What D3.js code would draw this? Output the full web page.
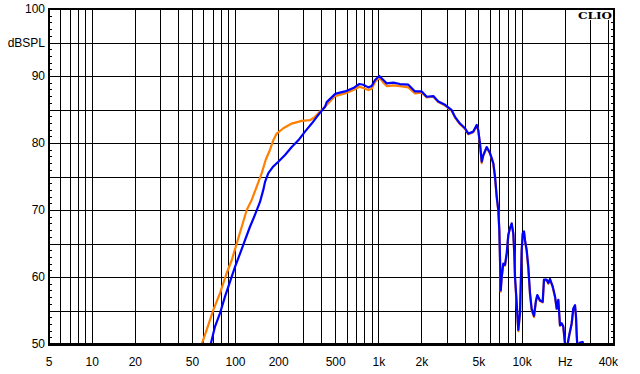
<!DOCTYPE html>
<html>
<head>
<meta charset="utf-8">
<script src="https://cdn.jsdelivr.net/npm/d3@7"></script>
<style>
  html, body { margin: 0; padding: 0; background: #fff; }
  svg { display: block; }
  text { font-family: "Liberation Sans", Arial, sans-serif; font-size: 12px; fill: #000; }
</style>
</head>
<body>
<script>
// ---- data ----
const freqTicks = [5, 10, 20, 50, 100, 200, 500, 1000, 2000, 5000, 10000, 20000, 40000];
const freqTickLabels = ["5", "10", "20", "50", "100", "200", "500", "1k", "2k", "5k", "10k", "Hz", "40k"];
const dbTicks = [100, 95, 90, 80, 70, 60, 50];
const dbTickLabels = ["100", "dBSPL", "90", "80", "70", "60", "50"];

const blueFreq = [65, 67.7, 72.5, 78.6, 85.2, 92.3, 100, 108.4, 117.4, 127.2, 137.9, 149.4, 157.5, 162, 170.8, 185, 200.5, 223.3, 248.7, 276.5, 307.9, 342.9, 381.4, 424.7, 436.4, 498.6, 512.5, 585.6, 669.1, 737.2, 785.8, 851.7, 899.4, 948.4, 1016, 1084, 1144, 1273, 1417, 1620, 1804, 2009, 2177, 2420, 2623, 2921, 3253, 3429, 3716, 4027, 4248, 4603, 4861, 4987, 5125, 5267, 5405, 5708, 6020, 6346, 6523, 6703, 6879, 6991, 7071, 7150, 7263, 7452, 7659, 7871, 8077, 8299, 8530, 8752, 8895, 8994, 9243, 9484, 9746, 10016, 10178, 10392, 10561, 10854, 11138, 11445, 11762, 12206, 12603, 12870, 13437, 14035, 14330, 14967, 15356, 15785, 16481, 17105, 17580, 18036, 18535, 19048, 19545, 20084, 20744, 21527, 22370, 22954, 23592, 23969, 24240, 24476, 25545, 26680, 27000];
const blueDb = [49.3, 50.0, 52.6, 54.6, 57.1, 59.3, 61.5, 63.5, 65.5, 67.5, 69.3, 71.2, 73.0, 74.2, 75.5, 76.5, 77.2, 78.2, 79.4, 80.4, 81.7, 82.9, 84.2, 85.4, 86.1, 87.3, 87.4, 87.7, 88.2, 88.8, 88.7, 88.3, 88.5, 89.4, 90.0, 89.4, 88.9, 89.0, 88.8, 88.7, 87.7, 87.7, 86.9, 87.0, 86.2, 85.7, 84.9, 83.9, 82.9, 82.2, 81.4, 81.7, 82.7, 81.9, 79.9, 77.2, 78.2, 79.4, 78.5, 77.0, 75.0, 72.0, 70.0, 67.0, 62.5, 58.0, 60.0, 62.0, 61.8, 63.5, 66.3, 67.3, 68.0, 66.5, 63.5, 60.0, 56.1, 52.1, 54.6, 64.0, 66.5, 66.8, 65.5, 64.0, 61.5, 57.6, 55.2, 54.2, 56.5, 57.3, 56.5, 56.3, 59.6, 59.6, 59.1, 59.7, 58.6, 57.1, 55.3, 56.6, 52.8, 53.1, 52.6, 50.1, 49.5, 51.4, 53.1, 55.3, 55.8, 54.1, 51.4, 49.8, 50.2, 50.3, 49.6];

const orangeFreq = [57, 58.6, 63.4, 66.9, 70.6, 78.6, 87.5, 94.8, 102.8, 111.4, 120.7, 130.7, 141.7, 153.6, 163.8, 175.5, 185, 195.4, 217.3, 248.7, 292.1, 333.7, 361.7, 391.9, 424.7, 498.6, 585.6, 669.1, 737.2, 785.8, 851.7, 899.4, 948.4, 1016, 1084, 1144, 1273, 1417, 1620, 1804, 2009, 2177, 2420, 2623, 2921, 3253, 3429, 3716, 4027, 4248, 4603, 4861, 4987, 5125, 5267, 5405, 5708, 6020, 6346, 6523, 6703, 6879, 6991, 7071, 7150, 7263, 7452, 7659, 7871, 8077, 8299, 8530, 8752, 8895, 8994, 9243, 9484, 9746, 10016, 10178, 10392, 10561, 10854, 11138, 11445, 11762, 12206, 12603, 12870, 13437, 14035, 14330, 14967, 15356, 15785, 16481, 17105, 17580, 18036, 18535, 19048, 19545, 20084, 20744, 21527, 22370, 22954, 23592, 23969, 24240, 24476, 25545, 26680, 27000];
const orangeDb = [49.4, 50.0, 52.1, 53.6, 55.1, 57.6, 60.6, 62.5, 65.0, 67.5, 70.0, 71.5, 73.5, 75.5, 77.5, 79.0, 80.4, 81.4, 82.2, 82.9, 83.3, 83.4, 83.9, 84.7, 85.4, 87.0, 87.4, 87.9, 88.4, 88.2, 87.9, 88.1, 89.1, 89.8, 89.0, 88.5, 88.6, 88.5, 88.3, 87.4, 87.5, 86.8, 86.9, 86.1, 85.6, 84.8, 83.8, 82.8, 82.1, 81.3, 81.6, 82.6, 81.8, 79.8, 77.0, 78.1, 79.3, 78.4, 76.9, 74.9, 71.9, 69.9, 66.9, 62.4, 57.8, 59.9, 61.9, 61.7, 63.4, 66.2, 67.2, 67.9, 66.4, 63.4, 59.8, 55.9, 51.9, 54.5, 63.9, 66.4, 66.7, 65.4, 63.8, 61.3, 57.4, 55.0, 54.0, 56.4, 57.2, 56.4, 56.2, 59.5, 59.5, 59.0, 59.6, 58.5, 57.0, 55.2, 56.5, 52.7, 53.0, 52.5, 50.0, 49.4, 51.3, 53.0, 55.2, 55.7, 54.0, 51.3, 49.7, 50.1, 50.2, 49.5];

// ---- layout ----
const W = 640, H = 374;
const L = 49, R = 614, T = 9, B = 344;

const x = d3.scaleLog().domain([5, 44500]).range([48.6, 614.5]);
const y = d3.scaleLinear().domain([50, 100]).range([B, T]);

const svg = d3.select("body").append("svg").attr("width", W).attr("height", H);
svg.append("rect").attr("width", W).attr("height", H).attr("fill", "#fff");

// vertical grid
const gx = svg.append("g").attr("transform", `translate(0,${B})`)
  .call(d3.axisBottom(x).tickValues(x.ticks().filter(f => f > 5)).tickSize(-(B - T)).tickFormat(""));
gx.select(".domain").remove();
gx.selectAll("line").attr("stroke", "#000").attr("stroke-width", 1).attr("shape-rendering", "crispEdges");

// horizontal grid
const gy = svg.append("g").attr("transform", `translate(${L},0)`)
  .call(d3.axisLeft(y).tickValues(d3.range(55, 100, 5)).tickSize(-(R - L)).tickFormat(""));
gy.select(".domain").remove();
gy.selectAll("line").attr("stroke", "#000").attr("stroke-width", 1).attr("shape-rendering", "crispEdges");

// minor ticks left and right (inside)
const mL = svg.append("g").attr("transform", `translate(${L},0)`)
  .call(d3.axisRight(y).tickValues(d3.range(50, 101, 1)).tickSize(3).tickFormat(""));
mL.select(".domain").remove();
mL.selectAll("line").attr("stroke", "#000").attr("shape-rendering", "crispEdges");
const mR = svg.append("g").attr("transform", `translate(${R},0)`)
  .call(d3.axisLeft(y).tickValues(d3.range(50, 101, 1)).tickSize(3).tickFormat(""));
mR.select(".domain").remove();
mR.selectAll("line").attr("stroke", "#000").attr("shape-rendering", "crispEdges");

// curves
svg.append("clipPath").attr("id", "clip").append("rect")
  .attr("x", L).attr("y", T).attr("width", R - L).attr("height", B - T);
const line = d3.line().x(d => x(d[0])).y(d => y(d[1]));
const plot = svg.append("g").attr("clip-path", "url(#clip)");
plot.append("path").datum(d3.zip(orangeFreq, orangeDb)).attr("d", line)
  .attr("fill", "none").attr("stroke", "#ff8000").attr("stroke-width", 2.2).attr("stroke-linejoin", "round");
plot.append("path").datum(d3.zip(blueFreq, blueDb)).attr("d", line)
  .attr("fill", "none").attr("stroke", "#0000ff").attr("stroke-width", 2.2).attr("stroke-linejoin", "round");

// frame
const frame = svg.append("g").attr("stroke", "#000").attr("shape-rendering", "crispEdges");
frame.append("line").attr("x1", L - 1).attr("x2", R + 1).attr("y1", T).attr("y2", T).attr("stroke-width", 2);
frame.append("line").attr("x1", L - 1).attr("x2", R + 1).attr("y1", B).attr("y2", B).attr("stroke-width", 3);
frame.append("line").attr("x1", L).attr("x2", L).attr("y1", T).attr("y2", B).attr("stroke-width", 2);
frame.append("line").attr("x1", R).attr("x2", R).attr("y1", T).attr("y2", B).attr("stroke-width", 2);

// x labels
const xl = svg.append("g").attr("transform", `translate(0,${B})`)
  .call(d3.axisBottom(x).tickValues(freqTicks).tickSize(0).tickPadding(13.5)
    .tickFormat((d, i) => freqTickLabels[i]));
xl.select(".domain").remove();
xl.selectAll("text").attr("font-size", 12).attr("font-family", "'Liberation Sans', Arial, sans-serif");

// y labels
const yl = svg.append("g").attr("transform", `translate(${L},0)`)
  .call(d3.axisLeft(y).tickValues(dbTicks).tickSize(0).tickPadding(4)
    .tickFormat((d, i) => dbTickLabels[i]));
yl.select(".domain").remove();
yl.selectAll("text").attr("font-size", 12).attr("font-family", "'Liberation Sans', Arial, sans-serif");

// CLIO logo
svg.append("rect").attr("x", 577).attr("y", 10).attr("width", 36).attr("height", 10).attr("fill", "#fff");
svg.append("text").attr("x", 578).attr("y", 18.5)
  .attr("textLength", 34).attr("lengthAdjust", "spacingAndGlyphs")
  .style("font-family", "'DejaVu Serif', 'Liberation Serif', serif").style("font-weight", "bold")
  .style("font-size", "10px").text("CLIO");
</script>
</body>
</html>
